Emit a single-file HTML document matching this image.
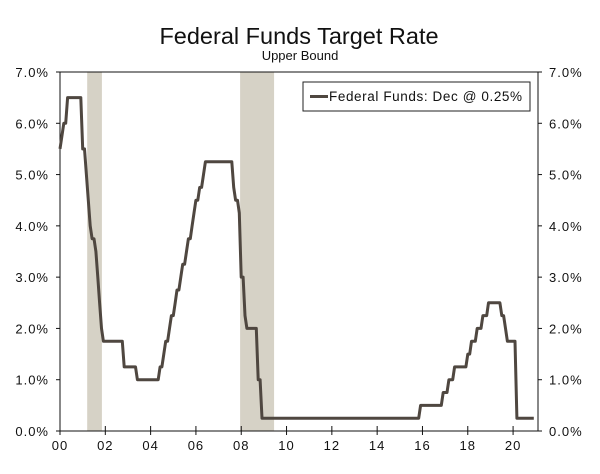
<!DOCTYPE html>
<html><head><meta charset="utf-8"><style>
body{margin:0;background:#fff;}
svg text{font-family:"Liberation Sans",sans-serif;fill:#111;}
</style></head><body>
<svg id="chart" width="600" height="469" viewBox="0 0 600 469">
<text x="299" y="44" text-anchor="middle" font-size="23.5">Federal Funds Target Rate</text>
<text x="300" y="60" text-anchor="middle" font-size="13">Upper Bound</text>
<g id="rec"></g>
<g id="axes"></g>
<path id="line" fill="none" stroke="#4f4740" stroke-width="3" stroke-linejoin="round"/>
<g>
<rect x="303" y="82" width="227" height="29" fill="#fff" stroke="#222" stroke-width="1"/>
<line x1="310" y1="96.5" x2="328" y2="96.5" stroke="#4f4740" stroke-width="3"/>
<text x="329" y="101" font-size="13.5" letter-spacing="0.6">Federal Funds: Dec @ 0.25%</text>
</g>
</svg>
<script>
const startYear = 2000;
const rates = [
5.5,5.75,6,6,6.5,6.5,6.5,6.5,6.5,6.5,6.5,6.5,
5.5,5.5,5,4.5,4,3.75,3.75,3.5,3,2.5,2,1.75,
1.75,1.75,1.75,1.75,1.75,1.75,1.75,1.75,1.75,1.75,1.25,1.25,
1.25,1.25,1.25,1.25,1.25,1,1,1,1,1,1,1,
1,1,1,1,1,1.25,1.25,1.5,1.75,1.75,2,2.25,
2.25,2.5,2.75,2.75,3,3.25,3.25,3.5,3.75,3.75,4,4.25,
4.5,4.5,4.75,4.75,5,5.25,5.25,5.25,5.25,5.25,5.25,5.25,
5.25,5.25,5.25,5.25,5.25,5.25,5.25,5.25,4.75,4.5,4.5,4.25,
3,3,2.25,2,2,2,2,2,2,1,1,0.25,
0.25,0.25,0.25,0.25,0.25,0.25,0.25,0.25,0.25,0.25,0.25,0.25,
0.25,0.25,0.25,0.25,0.25,0.25,0.25,0.25,0.25,0.25,0.25,0.25,
0.25,0.25,0.25,0.25,0.25,0.25,0.25,0.25,0.25,0.25,0.25,0.25,
0.25,0.25,0.25,0.25,0.25,0.25,0.25,0.25,0.25,0.25,0.25,0.25,
0.25,0.25,0.25,0.25,0.25,0.25,0.25,0.25,0.25,0.25,0.25,0.25,
0.25,0.25,0.25,0.25,0.25,0.25,0.25,0.25,0.25,0.25,0.25,0.25,
0.25,0.25,0.25,0.25,0.25,0.25,0.25,0.25,0.25,0.25,0.25,0.5,
0.5,0.5,0.5,0.5,0.5,0.5,0.5,0.5,0.5,0.5,0.5,0.75,
0.75,0.75,1,1,1,1.25,1.25,1.25,1.25,1.25,1.25,1.25,
1.5,1.5,1.75,1.75,1.75,2,2,2,2.25,2.25,2.25,2.5,
2.5,2.5,2.5,2.5,2.5,2.5,2.25,2.25,2,1.75,1.75,1.75,
1.75,1.75,0.25,0.25,0.25,0.25,0.25,0.25,0.25,0.25,0.25,0.25
];
const recStarts = [2001.2, 2007.95];
const recEnds = [2001.85, 2009.45];
const yTicks = [0,1,2,3,4,5,6,7];
const xTickYears = [2000,2002,2004,2006,2008,2010,2012,2014,2016,2018,2020];

const X0=60,X1=538,Y0=431,Y1=72,xMin=2000,xMax=2021.1,yMax=7;
const xs=v=>X0+(v-xMin)/(xMax-xMin)*(X1-X0);
const ys=v=>Y0-v/yMax*(Y0-Y1);
const NS='http://www.w3.org/2000/svg';
function mk(tag,attrs,parent){const e=document.createElementNS(NS,tag);for(const k in attrs)e.setAttribute(k,attrs[k]);parent.appendChild(e);return e;}
const rec=document.getElementById('rec'),axes=document.getElementById('axes');
recStarts.forEach((s,i)=>{
  const r=mk('rect',{x:xs(s),y:Y1,width:xs(recEnds[i])-xs(s),height:Y0-Y1,fill:'#d6d2c6'},rec);
  
  
});
mk('line',{x1:X0,y1:Y1,x2:X0,y2:Y0,stroke:'#111'},axes);
mk('line',{x1:X1,y1:Y1,x2:X1,y2:Y0,stroke:'#111'},axes);
mk('line',{x1:X0,y1:Y0,x2:X1,y2:Y0,stroke:'#111'},axes);
mk('line',{x1:X0,y1:Y1,x2:X1,y2:Y1,stroke:'#111'},axes);
yTicks.forEach(t=>{
  const y=ys(t);
  mk('line',{x1:X0-4,y1:y,x2:X0,y2:y,stroke:'#111'},axes);
  mk('line',{x1:X1,y1:y,x2:X1+4,y2:y,stroke:'#111'},axes);
  const a=mk('text',{x:X0-11,y:y+5,'text-anchor':'end','font-size':'13','letter-spacing':'1'},axes);a.textContent=t.toFixed(1)+'%';
  
  
  const b=mk('text',{x:X1+11,y:y+5,'font-size':'13','letter-spacing':'1'},axes);b.textContent=t.toFixed(1)+'%';
  
  
});
xTickYears.forEach(t=>{
  const x=xs(t);
  mk('line',{x1:x,y1:Y0-5,x2:x,y2:Y0+4,stroke:'#111'},axes);
  const a=mk('text',{x:x,y:Y0+19,'text-anchor':'middle','font-size':'13','letter-spacing':'1'},axes);a.textContent=String(t%100).padStart(2,'0');
  
  
});
document.getElementById('line').setAttribute('d',rates.map((v,i)=>(i?'L':'M')+xs(startYear+i/12).toFixed(1)+' '+ys(v).toFixed(1)).join(''));
</script>
</body></html>
